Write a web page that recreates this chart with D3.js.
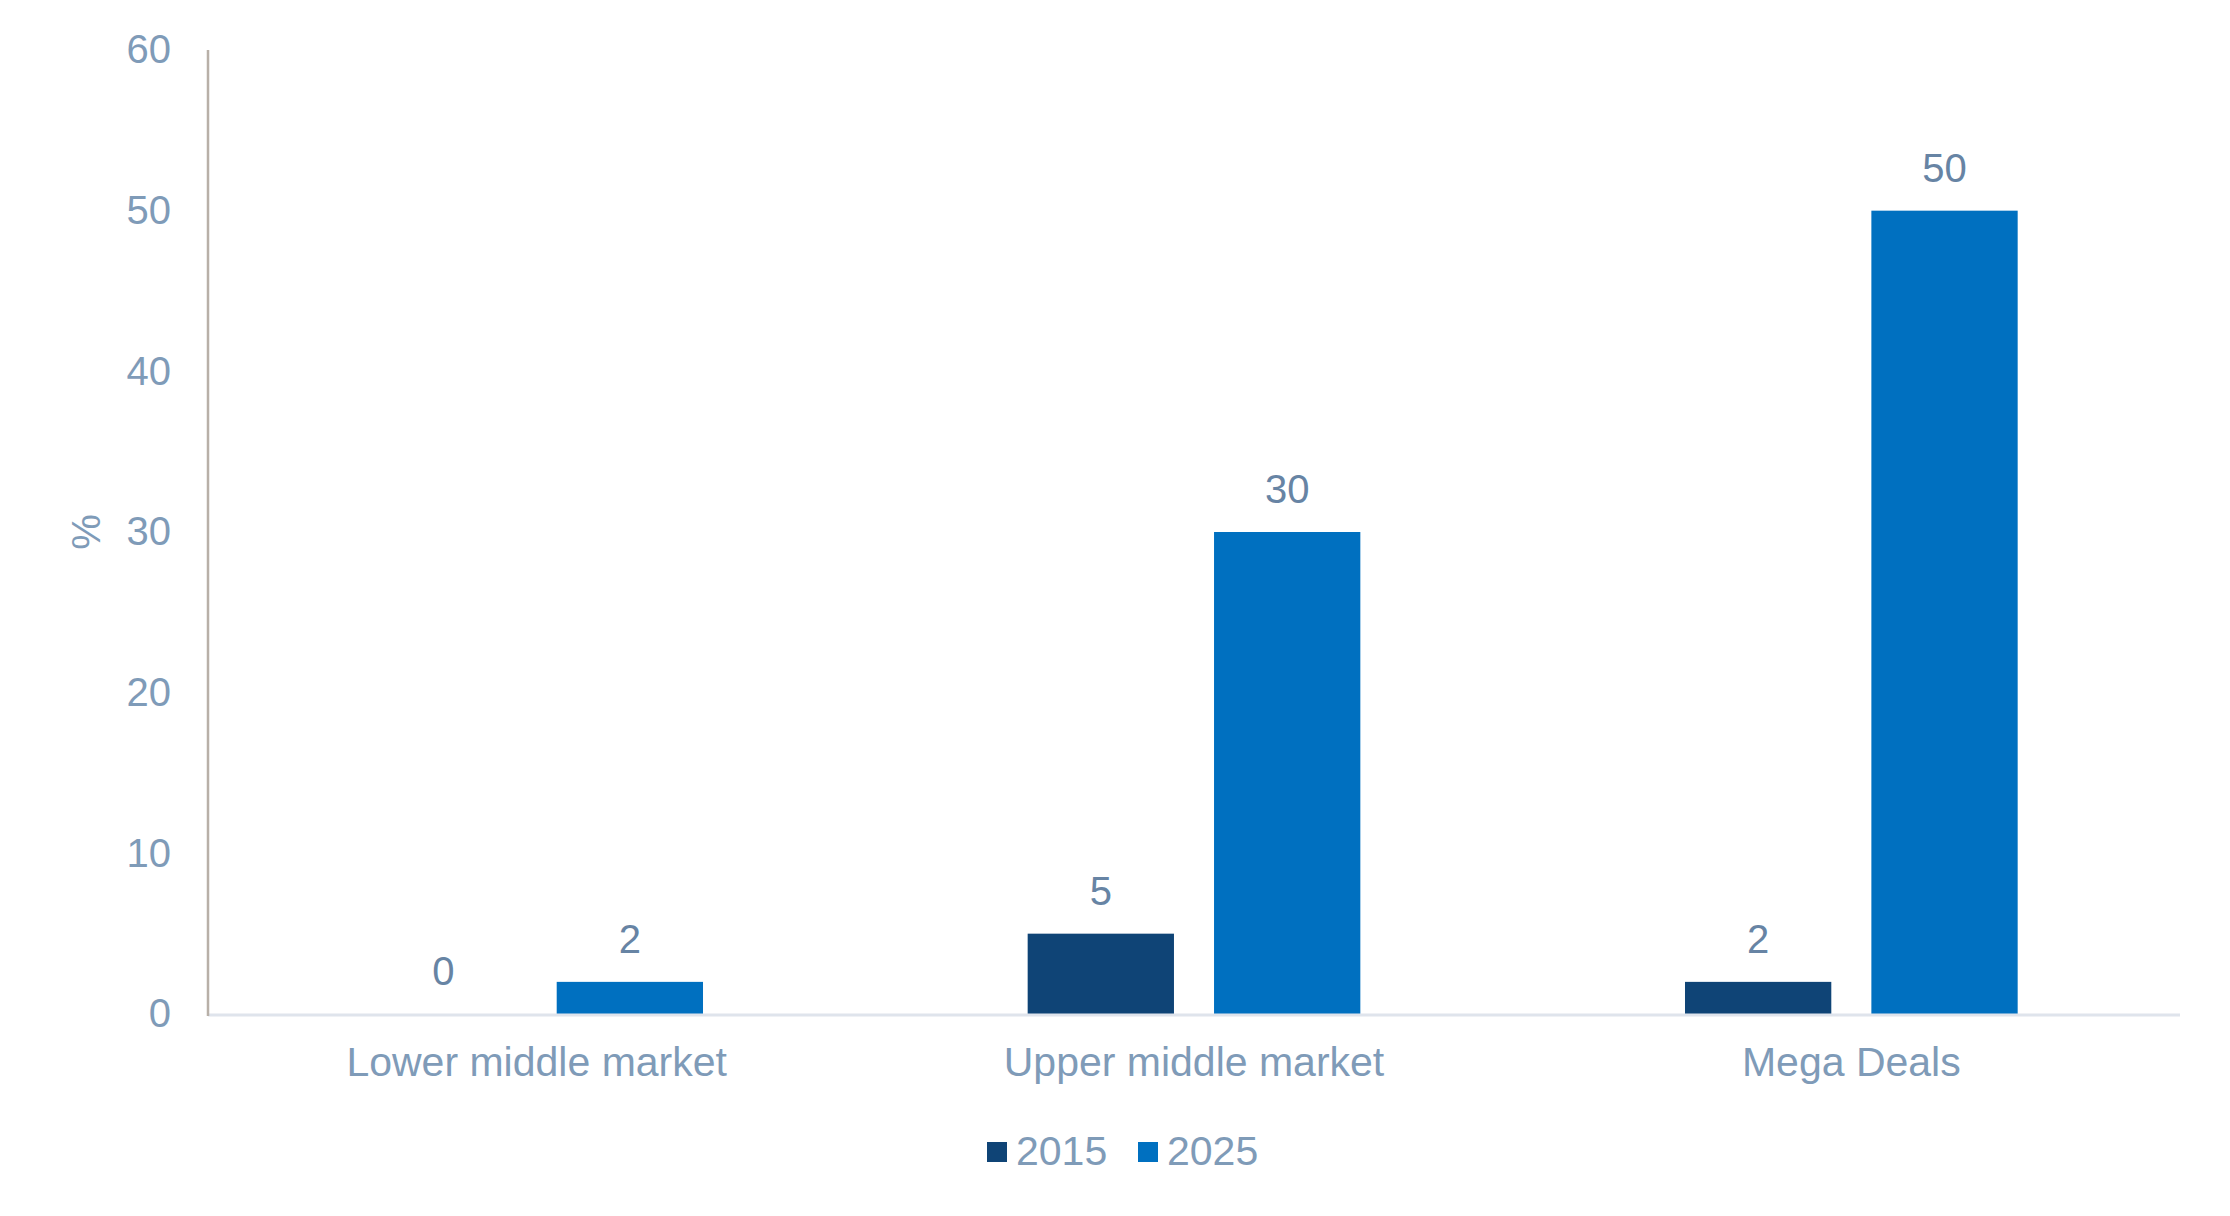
<!DOCTYPE html>
<html>
<head>
<meta charset="utf-8">
<script src="https://d3js.org/d3.v7.min.js"></script>
<style>
body{margin:0;background:#fff}
text{font-family:"Liberation Sans",Arial,sans-serif}
</style>
</head>
<body>
<div id="chart"></div>
<script>
var categories = ["Lower middle market","Upper middle market","Mega Deals"]
var seriesNames = ["2015","2025"]
var values2015 = [0,5,2]
var values2025 = [2,30,50]
var yTicks = [0,10,20,30,40,50,60]

var colors = {"2015":"#0f4476","2025":"#0070c0"}
var axisTextColor = "#7f9bb8"
var labelColor = "#6784a4"

drawChart()

function drawChart(){
    var width = 2230
    var height = 1216
    var left = 208
    var right = 2180
    var top = 50
    var bottom = 1014
    var fontSize = 41

    var svg = d3.select("#chart").append("svg").attr("width",width).attr("height",height)

    var data = categories.map(function(c,i){
        return {cat:c,values:[{key:"2015",v:values2015[i]},{key:"2025",v:values2025[i]}]}
    })

    var x0 = d3.scaleBand().domain(categories).range([left,right]).padding(0)
    var x1 = d3.scaleBand().domain(seriesNames).range([0,x0.bandwidth()])
        .paddingInner(0.215).paddingOuter(0.871)
    var y = d3.scaleLinear().domain([0,60]).range([bottom,top])

    // y tick labels
    var yAxis = d3.axisLeft(y).tickValues(yTicks).tickSize(0).tickPadding(37)
    var ya = svg.append("g").attr("transform","translate("+left+",0)").call(yAxis)
    ya.select(".domain").remove()
    ya.selectAll("text").attr("font-size",40).attr("fill",axisTextColor)
        .style("font-family","'Liberation Sans',Arial,sans-serif")

    // category labels
    var xAxis = d3.axisBottom(x0).tickSize(0).tickPadding(0)
    var xa = svg.append("g").attr("transform","translate(0,"+bottom+")").call(xAxis)
    xa.select(".domain").remove()
    xa.selectAll("text").attr("font-size",fontSize).attr("fill",axisTextColor)
        .attr("dy",null).attr("y",62)
        .style("font-family","'Liberation Sans',Arial,sans-serif")

    // bars
    var groups = svg.selectAll(".group")
        .data(data)
        .enter()
        .append("g")
        .attr("class","group")
        .attr("transform",function(d){return "translate("+x0(d.cat)+",0)"})

    groups.selectAll("rect")
        .data(function(d){return d.values})
        .enter()
        .append("rect")
        .attr("x",function(d){return x1(d.key)})
        .attr("y",function(d){return y(d.v)})
        .attr("width",x1.bandwidth())
        .attr("height",function(d){return y(0)-y(d.v)})
        .attr("fill",function(d){return colors[d.key]})

    groups.selectAll(".val")
        .data(function(d){return d.values})
        .enter()
        .append("text")
        .attr("class","val")
        .text(function(d){return d.v})
        .attr("x",function(d){return x1(d.key)+x1.bandwidth()/2})
        .attr("y",function(d){return y(d.v)-29})
        .attr("text-anchor","middle")
        .attr("font-size",40)
        .attr("fill",labelColor)

    // axis lines
    svg.append("line").attr("x1",left).attr("x2",right).attr("y1",bottom+1).attr("y2",bottom+1)
        .attr("stroke","#dfe4ec").attr("stroke-width",3)
    svg.append("line").attr("x1",left).attr("x2",left).attr("y1",top).attr("y2",bottom+2)
        .attr("stroke","#b8b0a8").attr("stroke-width",2.5)

    // y title
    svg.append("text").text("%")
        .attr("transform","translate(100,"+((top+bottom)/2)+") rotate(-90)")
        .attr("text-anchor","middle")
        .attr("font-size",40)
        .attr("fill",axisTextColor)

    // legend
    var legendX = [987,1138]
    var legend = svg.selectAll(".legend")
        .data(seriesNames)
        .enter()
        .append("g")
        .attr("class","legend")
        .attr("transform",function(d,i){return "translate("+legendX[i]+",1142)"})
    legend.append("rect").attr("width",20).attr("height",20)
        .attr("fill",function(d){return colors[d]})
    legend.append("text").text(function(d){return d})
        .attr("x",29).attr("y",23)
        .attr("font-size",fontSize)
        .attr("fill",axisTextColor)
}
</script>
</body>
</html>
